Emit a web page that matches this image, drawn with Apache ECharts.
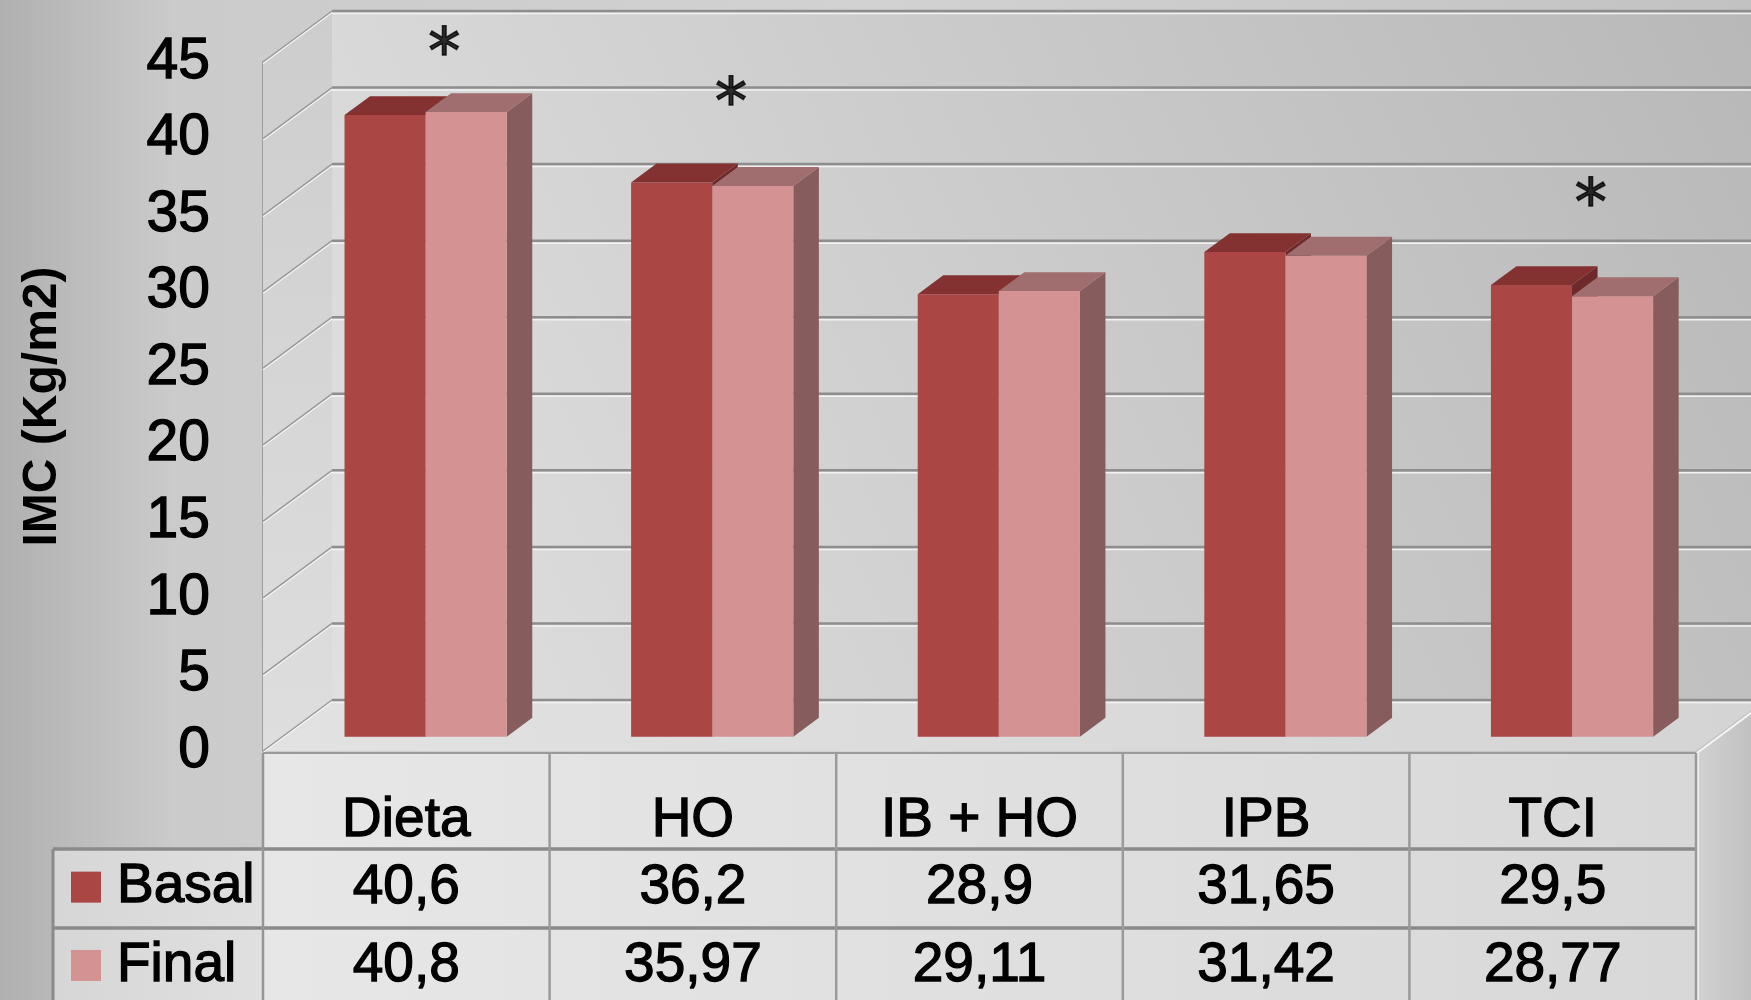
<!DOCTYPE html>
<html>
<head>
<meta charset="utf-8">
<title>IMC basal y final</title>
<script src="https://cdn.jsdelivr.net/npm/echarts@6/dist/echarts.min.js"></script>
<style>
  html, body { margin: 0; padding: 0; background: #c8c8c8; }
  #chart { width: 1751px; height: 1000px; }
</style>
</head>
<body>
<div id="chart"></div>
<script>
// ---- data ----
const categories = ['Dieta', 'HO', 'IB + HO', 'IPB', 'TCI'];
const seriesNames = ['Basal', 'Final'];
const basalValues = [40.6, 36.2, 28.9, 31.65, 29.5];
const finalValues = [40.8, 35.97, 29.11, 31.42, 28.77];
const yTicks = [0, 5, 10, 15, 20, 25, 30, 35, 40, 45];
// height (IMC units) of the significance asterisk over each group, null = none
const sigMarks = [46.3, 43.0, null, null, 36.4];

// ---- look ----
const FONT = '"Liberation Sans", Arial, sans-serif';
const WALL = [69, -51];      // screen offset of the back wall relative to the front plane
const BAR_FRONT = 0.28;      // bars' front face, as a fraction of the box depth
const BAR_DEPTH = 0.37;      // bars' own depth, as a fraction of the box depth
const BAR_W = 0.283;         // width of one bar as a fraction of the category band
const COLORS = {
  Basal: { front: '#aa4644', top: '#843131', side: '#6e2a2a' },
  Final: { front: '#d49292', top: '#a06e6e', side: '#865c5c' }
};
const TEXT_EDGE = { textBorderColor: '#000', textBorderWidth: 1.3 };
const fmt = v => String(v).replace('.', ',');
const yMax = yTicks[yTicks.length - 1];

const chart = echarts.init(document.getElementById('chart'), null, { renderer: 'canvas' });

// walls and floor of the 3-D box
function wallsRenderer(params, api) {
  const cs = params.coordSys;
  const W = api.getWidth(), H = api.getHeight();
  const yTop = api.coord([0, yMax])[1];
  const yBot = api.coord([0, 0])[1];
  const [dx, dy] = WALL;
  const xl = cs.x, xr = cs.x + cs.width;
  return {
    type: 'group',
    children: [
      { type: 'rect', shape: { x: xl + dx, y: yTop + dy, width: W - xl - dx, height: yBot - yTop },
        style: { fill: new echarts.graphic.LinearGradient(1, 0, 0, 1, [
          { offset: 0, color: '#b8b8b8' }, { offset: 1, color: '#e0e0e0' }]) } },
      { type: 'polygon', shape: { points: [[xl, yTop], [xl + dx, yTop + dy], [xl + dx, yBot + dy], [xl, yBot]] },
        style: { fill: new echarts.graphic.LinearGradient(0, 0, 0, 1, [
          { offset: 0, color: '#cdcdcd' }, { offset: 1, color: '#dedede' }]) } },
      { type: 'polygon', shape: { points: [[xl, yBot], [xr, yBot], [xr + dx, yBot + dy], [xl + dx, yBot + dy]] },
        style: { fill: new echarts.graphic.LinearGradient(0, 0, 1, 0, [
          { offset: 0, color: '#e2e2e2' }, { offset: 1, color: '#d4d4d4' }]) } },
      { type: 'polygon', shape: { points: [[xr, yBot + 2], [xr + dx, yBot + 2 + dy], [xr + dx, H], [xr, H]] },
        style: { fill: new echarts.graphic.LinearGradient(0, 0, 1, 0, [
          { offset: 0, color: '#d2d2d2' }, { offset: 1, color: '#bdbdbd' }]) } },
      { type: 'line', shape: { x1: xr + 1, y1: yBot + 2, x2: xr + dx + 1, y2: yBot + 2 + dy },
        style: { stroke: '#f4f4f4', lineWidth: 2 } },
      { type: 'line', shape: { x1: xr + 2, y1: yBot + 2, x2: xr + 2, y2: H },
        style: { stroke: '#f0f0f0', lineWidth: 2 } }
    ]
  };
}

// one gridline per tick: slanted on the left wall, horizontal on the back wall
function gridRenderer(params, api) {
  const cs = params.coordSys;
  const W = api.getWidth();
  const y = api.coord([0, api.value(1)])[1];
  const [dx, dy] = WALL;
  const xl = cs.x;
  return {
    type: 'group',
    children: [
      { type: 'line', shape: { x1: xl, y1: y + 1.5, x2: xl + dx, y2: y + dy + 1.5 },
        style: { stroke: '#f6f6f6', lineWidth: 1.5 } },
      { type: 'line', shape: { x1: xl, y1: y, x2: xl + dx, y2: y + dy },
        style: { stroke: '#9a9a9a', lineWidth: 1.5 } },
      { type: 'line', shape: { x1: xl + dx, y1: y + dy + 2.5, x2: W, y2: y + dy + 2.5 },
        style: { stroke: '#f2f2f2', lineWidth: 1.5 } },
      { type: 'line', shape: { x1: xl + dx, y1: y + dy, x2: W, y2: y + dy },
        style: { stroke: '#8e8e8e', lineWidth: 2.5 } }
    ]
  };
}

// 3-D bar: side face, front face, top face
function barRenderer(sideIndex, colors) {
  return function (params, api) {
    const i = api.value(0), v = api.value(1);
    const band = api.size([1, 0])[0];
    const bw = band * BAR_W;
    const base = api.coord([i, 0]);
    const top = api.coord([i, v]);
    const ox = WALL[0] * BAR_FRONT, oy = WALL[1] * BAR_FRONT;
    const dx = WALL[0] * BAR_DEPTH, dy = WALL[1] * BAR_DEPTH;
    const x0 = base[0] + ox + (sideIndex === 0 ? -bw : 0);
    const x1 = x0 + bw;
    const yb = base[1] + oy, yt = top[1] + oy;
    return {
      type: 'group',
      children: [
        { type: 'polygon', shape: { points: [[x1, yt], [x1 + dx, yt + dy], [x1 + dx, yb + dy], [x1, yb]] },
          style: { fill: colors.side } },
        { type: 'rect', shape: { x: x0, y: yt, width: bw, height: yb - yt },
          style: { fill: colors.front } },
        { type: 'polygon', shape: { points: [[x0, yt], [x0 + dx, yt + dy], [x1 + dx, yt + dy], [x1, yt]] },
          style: { fill: colors.top } }
      ]
    };
  };
}

// data table under the plot: header row of categories, one row per series
function tableRenderer(params, api) {
  const i = api.value(0);
  const cs = params.coordSys;
  const H = api.getHeight();
  const band = api.size([1, 0])[0];
  const p = api.coord([i, 0]);
  const cx = p[0], y0 = p[1];
  const xb = cx + band / 2;
  const rowTop = y0 + 2, headEnd = y0 + 98, row1End = y0 + 177;
  const legendLeft = cs.x - 210;
  const children = [];
  if (i === 0) {
    children.push(
      { type: 'rect', shape: { x: cs.x, y: rowTop, width: cs.width, height: H - rowTop },
        style: { fill: new echarts.graphic.LinearGradient(0, 0, 1, 0, [
          { offset: 0, color: '#e7e7e7' }, { offset: 1, color: '#d8d8d8' }]) } },
      { type: 'rect', shape: { x: legendLeft, y: headEnd, width: cs.x - legendLeft, height: H - headEnd },
        style: { fill: new echarts.graphic.LinearGradient(0, 0, 1, 0, [
          { offset: 0, color: '#d6d6d6' }, { offset: 1, color: '#e0e0e0' }]) } },
      { type: 'line', shape: { x1: cs.x, y1: rowTop, x2: cs.x + cs.width, y2: rowTop },
        style: { stroke: '#9a9a9a', lineWidth: 2 } },
      { type: 'line', shape: { x1: legendLeft, y1: headEnd, x2: cs.x + cs.width, y2: headEnd },
        style: { stroke: '#8a8a8a', lineWidth: 3.5 } },
      { type: 'line', shape: { x1: legendLeft, y1: row1End, x2: cs.x + cs.width, y2: row1End },
        style: { stroke: '#8a8a8a', lineWidth: 3.5 } },
      { type: 'line', shape: { x1: legendLeft, y1: headEnd, x2: legendLeft, y2: H },
        style: { stroke: '#8a8a8a', lineWidth: 3 } },
      { type: 'line', shape: { x1: cs.x, y1: rowTop, x2: cs.x, y2: H },
        style: { stroke: '#959595', lineWidth: 2.5 } }
    );
  }
  children.push(
    { type: 'line', shape: { x1: xb, y1: rowTop, x2: xb, y2: H },
      style: { stroke: '#9a9a9a', lineWidth: 2.5 } }
  );
  const texts = [
    [categories[i], y0 + 70],
    [fmt(basalValues[i]), y0 + 137],
    [fmt(finalValues[i]), y0 + 215]
  ];
  texts.forEach(([t, y]) => children.push({
    type: 'text',
    style: { text: t, x: cx, y: y, align: 'center', verticalAlign: 'middle',
      fontFamily: FONT, fontSize: 55, fill: '#000', stroke: '#000', lineWidth: 1.3 }
  }));
  return { type: 'group', children };
}

const option = {
  animation: false,
  backgroundColor: new echarts.graphic.LinearGradient(0, 0, 1, 0, [
    { offset: 0, color: '#b0b0b0' },
    { offset: 0.1, color: '#cbcbcb' },
    { offset: 0.5, color: '#d2d2d2' },
    { offset: 1, color: '#c2c2c2' }
  ]),
  grid: { left: 263, right: 55, top: 62, bottom: 249, containLabel: false },
  legend: {
    data: seriesNames.map(n => ({ name: n, itemStyle: { color: COLORS[n].front } })),
    orient: 'vertical',
    left: 71, top: 859,
    icon: 'rect',
    itemWidth: 30, itemHeight: 31,
    itemGap: 22,
    padding: 0,
    selectedMode: false,
    textStyle: Object.assign({ fontFamily: FONT, fontSize: 55, color: '#000', lineHeight: 55,
      padding: [0, 0, 0, 11] }, TEXT_EDGE)
  },
  xAxis: {
    type: 'category',
    data: categories,
    show: false
  },
  yAxis: {
    type: 'value',
    min: 0, max: yMax, interval: 5,
    name: 'IMC (Kg/m2)',
    nameLocation: 'middle',
    nameGap: 196,
    nameTextStyle: { fontFamily: FONT, fontSize: 48, fontWeight: 'bold', color: '#000' },
    axisLine: { show: true, lineStyle: { color: '#8e8e8e', width: 2.5 } },
    axisTick: { show: false },
    splitLine: { show: false },
    axisLabel: Object.assign({ fontFamily: FONT, fontSize: 57, color: '#000', margin: 53 }, TEXT_EDGE)
  },
  series: [
    { type: 'custom', name: 'walls', z: 1, silent: true, clip: false,
      renderItem: wallsRenderer, data: [[0, 0]], encode: { x: 0, y: 1 } },
    { type: 'custom', name: 'gridlines', z: 1, silent: true, clip: false,
      renderItem: gridRenderer, data: yTicks.map(t => [0, t]), encode: { x: 0, y: 1 } },
    { type: 'custom', name: 'Basal', z: 2, clip: false,
      itemStyle: { color: COLORS.Basal.front },
      renderItem: barRenderer(0, COLORS.Basal),
      data: basalValues.map((v, i) => [i, v]), encode: { x: 0, y: 1 } },
    { type: 'custom', name: 'Final', z: 2, clip: false,
      itemStyle: { color: COLORS.Final.front },
      renderItem: barRenderer(1, COLORS.Final),
      data: finalValues.map((v, i) => [i, v]), encode: { x: 0, y: 1 } },
    { type: 'custom', name: 'table', z: 3, silent: true, clip: false,
      renderItem: tableRenderer, data: categories.map((c, i) => [i, 0]), encode: { x: 0, y: 1 } },
    { type: 'scatter', name: 'sig', z: 4, silent: true, clip: false,
      symbolSize: 1, itemStyle: { color: 'rgba(0,0,0,0)' },
      data: sigMarks.map((v, i) => [i, v]).filter(d => d[1] !== null),
      label: { show: true, position: 'inside', formatter: '*', offset: [38, 14],
        fontFamily: '"DejaVu Sans", sans-serif', fontSize: 64, color: '#000',
        textBorderColor: '#000', textBorderWidth: 1.5 } }
  ]
};

chart.setOption(option);
</script>
</body>
</html>
